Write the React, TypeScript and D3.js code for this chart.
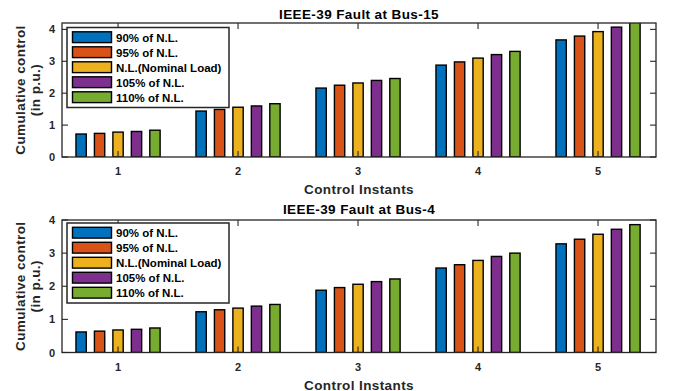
import * as d3 from "d3";
import { useEffect, useRef } from "react";

const instants = [1, 2, 3, 4, 5];
const seriesNames = ["90% of N.L.", "95% of N.L.", "N.L.(Nominal Load)", "105% of N.L.", "110% of N.L."];
const colors = ["#0072BD", "#D95319", "#EDB120", "#7E2F8E", "#77AC30"];

// Fault at Bus-15, one array per load level
const bus15_90 = [0.72, 1.44, 2.16, 2.88, 3.67];
const bus15_95 = [0.74, 1.49, 2.25, 2.98, 3.79];
const bus15_100 = [0.78, 1.56, 2.32, 3.10, 3.93];
const bus15_105 = [0.80, 1.60, 2.40, 3.21, 4.07];
const bus15_110 = [0.84, 1.67, 2.46, 3.31, 4.22];

// Fault at Bus-4
const bus4_90 = [0.62, 1.23, 1.88, 2.55, 3.28];
const bus4_95 = [0.645, 1.29, 1.96, 2.65, 3.42];
const bus4_100 = [0.68, 1.34, 2.06, 2.78, 3.57];
const bus4_105 = [0.70, 1.40, 2.14, 2.90, 3.72];
const bus4_110 = [0.74, 1.45, 2.22, 3.00, 3.86];

const yTicks = [0, 1, 2, 3, 4];

const font = "'Liberation Sans', Arial, Helvetica, sans-serif";

const App = () => {
    const svgRef = useRef(null);

    useEffect(() => {
        document.body.style.margin = "0";
        const svg = d3.select(svgRef.current);
        svg.selectAll("*").remove();

        const panels = [
            { title: "IEEE-39 Fault at Bus-15", data: [bus15_90, bus15_95, bus15_100, bus15_105, bus15_110], top: 23, bottom: 157, yMax: 4.2, legendTop: 27.5, titleGap: 4 },
            { title: "IEEE-39 Fault at Bus-4", data: [bus4_90, bus4_95, bus4_100, bus4_105, bus4_110], top: 220, bottom: 352.5, yMax: 4, legendTop: 223, titleGap: 6.5 }
        ];
        const left = 62;
        const right = 656;
        const axisColor = "#262626";

        panels.forEach((p, pi) => {
            const x = d3.scaleLinear().domain([0.533, 5.483]).range([left, right]);
            const y = d3.scaleLinear().domain([0, p.yMax]).range([p.bottom, p.top]);
            const g = svg.append("g");

            const clipId = `clip-${pi}`;
            svg.append("clipPath").attr("id", clipId)
                .append("rect")
                .attr("x", left).attr("y", p.top)
                .attr("width", right - left).attr("height", p.bottom - p.top);

            // bars
            const step = (5 / 6.5) / 5;
            const bw = 0.086;
            const bars = g.append("g").attr("clip-path", `url(#${clipId})`);
            p.data.forEach((vals, si) => {
                bars.selectAll(`.bar-${si}`)
                    .data(vals)
                    .enter()
                    .append("rect")
                    .attr("x", (d, i) => x(instants[i] + (si - 2) * step - bw / 2))
                    .attr("y", d => y(d))
                    .attr("width", x(bw) - x(0))
                    .attr("height", d => p.bottom - y(d))
                    .style("fill", colors[si])
                    .style("stroke", "#000")
                    .style("stroke-width", 1.4);
            });

            // axes box with inward ticks
            g.append("rect")
                .attr("x", left).attr("y", p.top)
                .attr("width", right - left).attr("height", p.bottom - p.top)
                .style("fill", "none").style("stroke", axisColor).style("stroke-width", 1.3);
            const tl = 6;
            instants.forEach(t => {
                g.append("line").attr("x1", x(t)).attr("x2", x(t)).attr("y1", p.bottom).attr("y2", p.bottom - tl).style("stroke", axisColor).style("stroke-width", 1.1);
                g.append("line").attr("x1", x(t)).attr("x2", x(t)).attr("y1", p.top).attr("y2", p.top + tl).style("stroke", axisColor).style("stroke-width", 1.1);
                g.append("text").attr("x", x(t)).attr("y", p.bottom + 18)
                    .attr("text-anchor", "middle").style("font", `bold 11px ${font}`).style("fill", axisColor)
                    .text(t);
            });
            yTicks.forEach(t => {
                g.append("line").attr("x1", left).attr("x2", left + tl).attr("y1", y(t)).attr("y2", y(t)).style("stroke", axisColor).style("stroke-width", 1.1);
                g.append("line").attr("x1", right).attr("x2", right - tl).attr("y1", y(t)).attr("y2", y(t)).style("stroke", axisColor).style("stroke-width", 1.1);
                g.append("text").attr("x", left - 7).attr("y", y(t) + 4)
                    .attr("text-anchor", "end").style("font", `bold 11px ${font}`).style("fill", axisColor)
                    .text(t);
            });

            // title & labels
            g.append("text").attr("x", 359).attr("y", p.top - p.titleGap)
                .attr("text-anchor", "middle").style("font", `bold 13.5px ${font}`).style("letter-spacing", "0.4px").style("fill", "#000")
                .text(p.title);
            g.append("text").attr("x", 359).attr("y", p.bottom + 37)
                .attr("text-anchor", "middle").style("font", `bold 13.5px ${font}`).style("letter-spacing", "0.4px").style("fill", axisColor)
                .text("Control Instants");
            const cy = (p.top + p.bottom) / 2;
            ["Cumulative control", "(in p.u.)"].forEach((line, li) => {
                g.append("text")
                    .attr("transform", `translate(${25 + li * 15}, ${cy}) rotate(-90)`)
                    .attr("text-anchor", "middle").style("font", `bold 13.5px ${font}`).style("letter-spacing", "0.4px").style("fill", axisColor)
                    .text(line);
            });

            // legend
            const lx = 67;
            const lw = 162;
            const rowH = 15;
            const lg = g.append("g");
            lg.append("rect")
                .attr("x", lx).attr("y", p.legendTop)
                .attr("width", lw).attr("height", 80)
                .style("fill", "#fff").style("stroke", axisColor).style("stroke-width", 1.5);
            seriesNames.forEach((name, si) => {
                const ry = p.legendTop + 4.3 + si * rowH;
                lg.append("rect")
                    .attr("x", lx + 5.5).attr("y", ry)
                    .attr("width", 39).attr("height", 10.8)
                    .style("fill", colors[si]).style("stroke", "#000").style("stroke-width", 1.4);
                lg.append("text")
                    .attr("x", lx + 49).attr("y", ry + 10)
                    .style("font", `bold 11.5px ${font}`).style("fill", "#000")
                    .text(name);
            });
        });
    }, []);

    return (
        <svg ref={svgRef} width={674} height={391} style={{ display: "block", background: "#fff" }}></svg>
    );
};

export default App;
